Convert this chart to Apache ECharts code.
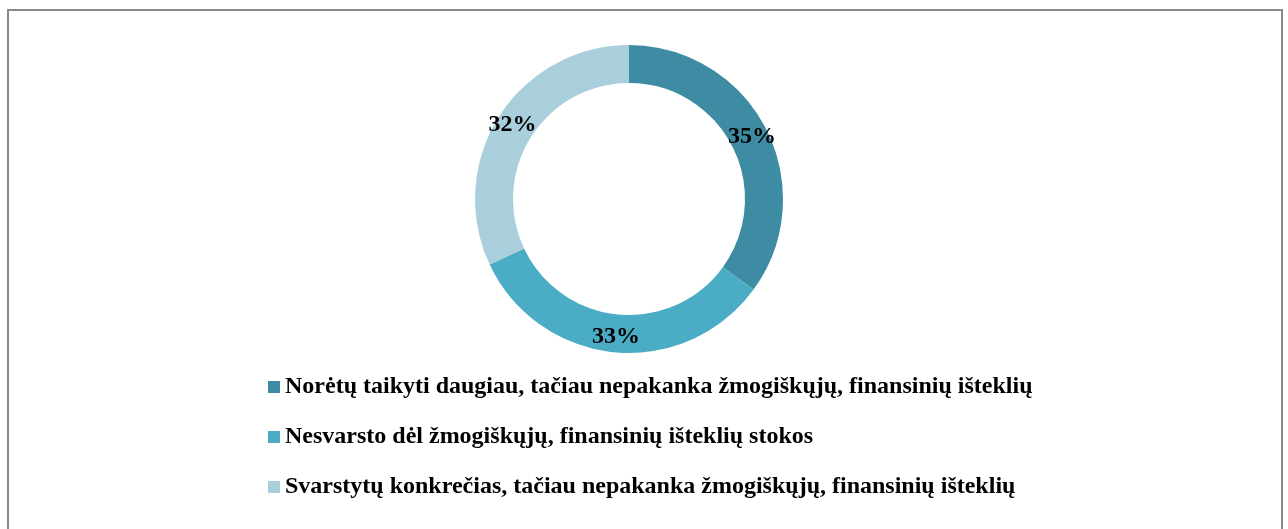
<!DOCTYPE html>
<html>
<head>
<meta charset="utf-8">
<script src="https://cdn.jsdelivr.net/npm/echarts@6/dist/echarts.min.js"></script>
<style>
html,body{margin:0;padding:0;background:#fff;}
#c{width:1288px;height:529px;}
</style>
</head>
<body>
<div id="c"></div>
<script>
const categories = [
  "Norėtų taikyti daugiau, tačiau nepakanka žmogiškųjų, finansinių išteklių",
  "Nesvarsto dėl žmogiškųjų, finansinių išteklių stokos",
  "Svarstytų konkrečias, tačiau nepakanka žmogiškųjų, finansinių išteklių"
];
const values = [35, 33, 32];
const colors = ["#3D8CA3", "#4BACC6", "#A9CFDC"];

const chart = echarts.init(document.getElementById('c'), null, {renderer: 'canvas'});
const font = "'Liberation Serif', 'Times New Roman', serif";
chart.setOption({
  animation: false,
  color: colors,
  graphic: [{
    type: 'rect',
    shape: {x: 8, y: 10, width: 1274, height: 600},
    style: {fill: 'none', stroke: '#8a8a8a', lineWidth: 2},
    silent: true
  }],
  legend: {
    orient: 'vertical',
    left: 268,
    top: 375,
    padding: 0,
    itemWidth: 12,
    itemHeight: 12,
    itemGap: 26,
    itemTextGap: 5,
    icon: 'rect',
    textStyle: {fontFamily: font, fontWeight: 'bold', fontSize: 24, color: '#000', lineHeight: 24},
    data: categories
  },
  series: [{
    type: 'pie',
    center: [629, 199],
    radius: [116, 154],
    startAngle: 90,
    clockwise: true,
    avoidLabelOverlap: false,
    label: {
      show: true,
      position: 'inside',
      formatter: '{d}%',
      fontFamily: font,
      fontWeight: 'bold',
      fontSize: 24,
      color: '#000'
    },
    labelLine: {show: false},
    itemStyle: {borderWidth: 0},
    emphasis: {disabled: true},
    data: categories.map((n, i) => ({name: n, value: values[i]}))
  }]
});
</script>
</body>
</html>
